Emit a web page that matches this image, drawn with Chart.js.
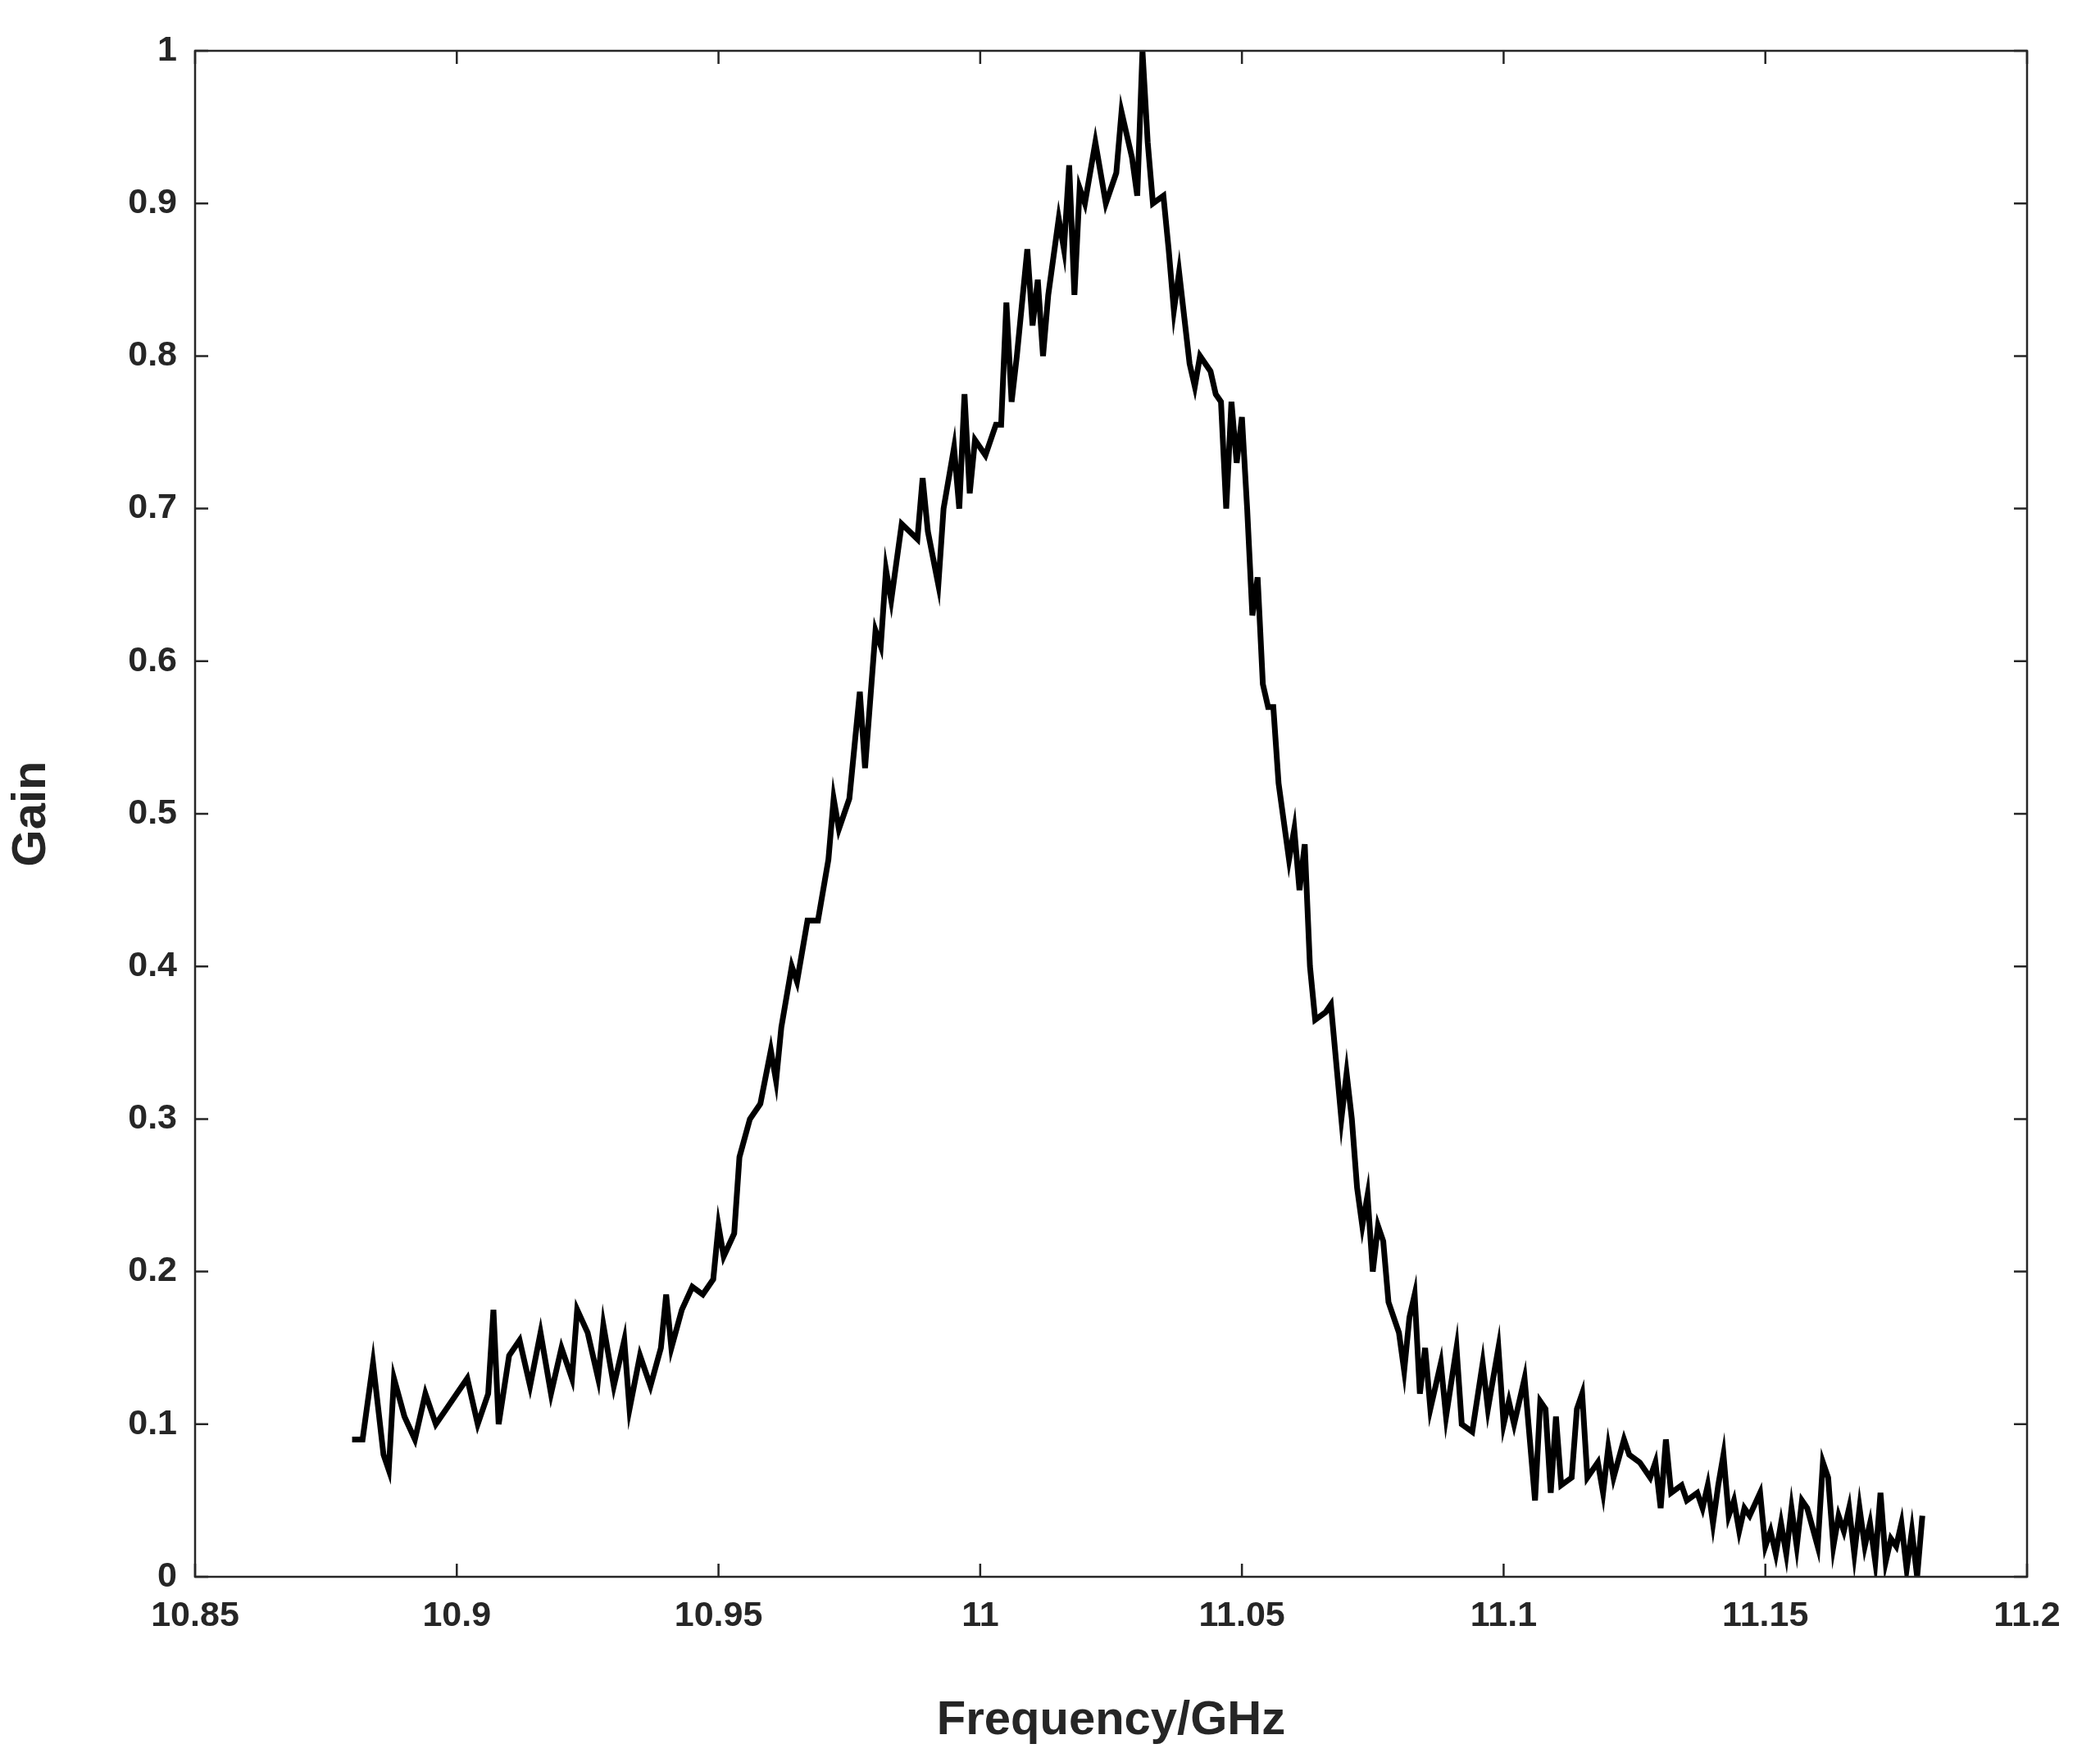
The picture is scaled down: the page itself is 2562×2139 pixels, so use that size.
<!DOCTYPE html>
<html><head><meta charset="utf-8">
<script src="https://cdn.jsdelivr.net/npm/chart.js@4"></script>
<style>html,body{margin:0;padding:0;background:#fff}#w{width:2562px;height:2139px}</style>
</head><body><div id="w"><canvas id="c"></canvas></div>
<script>
const freq = [10.880,10.882,10.884,10.886,10.887,10.888,10.890,10.892,10.894,10.896,10.898,10.900,10.902,10.904,10.906,10.907,10.908,10.910,10.912,10.914,10.916,10.918,10.920,10.922,10.923,10.925,10.927,10.928,10.930,10.932,10.933,10.935,10.937,10.939,10.940,10.941,10.943,10.945,10.947,10.949,10.950,10.951,10.953,10.954,10.956,10.958,10.960,10.961,10.962,10.964,10.965,10.967,10.969,10.971,10.972,10.973,10.975,10.977,10.978,10.980,10.981,10.982,10.983,10.985,10.988,10.989,10.990,10.992,10.993,10.995,10.996,10.997,10.998,10.999,11.001,11.003,11.004,11.005,11.006,11.007,11.009,11.010,11.011,11.012,11.013,11.015,11.016,11.017,11.018,11.019,11.020,11.022,11.024,11.026,11.027,11.029,11.030,11.031,11.032,11.033,11.035,11.036,11.037,11.038,11.040,11.041,11.042,11.044,11.045,11.046,11.047,11.048,11.049,11.050,11.051,11.052,11.053,11.054,11.055,11.056,11.057,11.059,11.060,11.061,11.062,11.063,11.064,11.066,11.067,11.069,11.070,11.071,11.072,11.073,11.074,11.075,11.076,11.077,11.078,11.080,11.081,11.082,11.083,11.084,11.085,11.086,11.088,11.089,11.091,11.092,11.094,11.096,11.097,11.099,11.100,11.101,11.102,11.104,11.105,11.106,11.107,11.108,11.109,11.110,11.111,11.113,11.114,11.115,11.116,11.118,11.119,11.120,11.121,11.123,11.124,11.126,11.128,11.129,11.130,11.131,11.132,11.134,11.135,11.137,11.138,11.139,11.140,11.141,11.142,11.143,11.144,11.145,11.146,11.147,11.149,11.150,11.151,11.152,11.153,11.154,11.155,11.156,11.157,11.158,11.160,11.161,11.162,11.163,11.164,11.165,11.166,11.167,11.168,11.169,11.170,11.171,11.172,11.173,11.174,11.175,11.176,11.177,11.178,11.179,11.180];
const gain = [0.09,0.09,0.14,0.08,0.07,0.13,0.105,0.09,0.12,0.10,0.11,0.12,0.13,0.10,0.12,0.175,0.10,0.145,0.155,0.125,0.16,0.12,0.15,0.13,0.175,0.16,0.13,0.165,0.125,0.155,0.11,0.145,0.125,0.15,0.185,0.15,0.175,0.19,0.185,0.195,0.23,0.21,0.225,0.275,0.30,0.31,0.345,0.325,0.36,0.40,0.39,0.43,0.43,0.47,0.51,0.49,0.51,0.58,0.53,0.62,0.61,0.66,0.64,0.69,0.68,0.72,0.685,0.65,0.70,0.74,0.70,0.775,0.71,0.745,0.735,0.755,0.755,0.835,0.77,0.80,0.87,0.82,0.85,0.80,0.84,0.89,0.87,0.925,0.84,0.91,0.90,0.94,0.90,0.92,0.96,0.93,0.905,1.0,0.94,0.90,0.905,0.87,0.83,0.855,0.795,0.78,0.80,0.79,0.775,0.77,0.70,0.77,0.73,0.76,0.70,0.63,0.655,0.585,0.57,0.57,0.52,0.47,0.49,0.45,0.48,0.40,0.365,0.37,0.375,0.30,0.33,0.30,0.255,0.23,0.25,0.20,0.23,0.22,0.18,0.16,0.135,0.17,0.185,0.12,0.15,0.11,0.14,0.105,0.15,0.10,0.095,0.14,0.11,0.15,0.10,0.115,0.10,0.13,0.09,0.05,0.115,0.11,0.055,0.105,0.06,0.065,0.11,0.12,0.065,0.075,0.055,0.085,0.065,0.09,0.08,0.075,0.065,0.075,0.045,0.09,0.055,0.06,0.05,0.055,0.045,0.06,0.035,0.06,0.08,0.04,0.05,0.03,0.045,0.04,0.055,0.02,0.03,0.015,0.035,0.015,0.045,0.02,0.05,0.045,0.02,0.075,0.065,0.02,0.04,0.03,0.045,0.015,0.045,0.02,0.035,0.01,0.055,0.01,0.025,0.02,0.035,0.005,0.03,0.0,0.04,0.055];
const xTicks = [10.85,10.9,10.95,11,11.05,11.1,11.15,11.2];
const yTicks = [0,0.1,0.2,0.3,0.4,0.5,0.6,0.7,0.8,0.9,1];
const font = {family:'"Liberation Sans", Arial, sans-serif', weight:'bold', size:43};
const boxPlugin = {id:'box', afterDraw(ch){
  const a=ch.chartArea, c=ch.ctx, xs=ch.scales.x, ys=ch.scales.y, L=16;
  c.save(); c.strokeStyle='#262626'; c.lineWidth=2.5;
  c.strokeRect(a.left,a.top,a.right-a.left,a.bottom-a.top);
  c.beginPath();
  xTicks.forEach(v=>{const p=xs.getPixelForValue(v); c.moveTo(p,a.bottom); c.lineTo(p,a.bottom-L); c.moveTo(p,a.top); c.lineTo(p,a.top+L);});
  yTicks.forEach(v=>{const p=ys.getPixelForValue(v); c.moveTo(a.left,p); c.lineTo(a.left+L,p); c.moveTo(a.right,p); c.lineTo(a.right-L,p);});
  c.stroke(); c.restore();
}};
new Chart(document.getElementById('c'), {
  type:'line',
  data:{datasets:[{data:freq.map((f,i)=>({x:f,y:gain[i]})), borderColor:'#000', borderWidth:7, pointRadius:0, tension:0, fill:false}]},
  options:{responsive:true, maintainAspectRatio:false, animation:false,
    layout:{padding:{left:0,right:89,top:62,bottom:0}},
    plugins:{legend:{display:false}, tooltip:{enabled:false}},
    scales:{
      x:{type:'linear', min:10.85, max:11.2,
        afterBuildTicks:s=>{s.ticks=xTicks.map(v=>({value:v}));},
        afterFit:s=>{s.height=215;},
        grid:{display:false}, border:{display:false},
        ticks:{font, color:'#262626', padding:14, maxRotation:0, callback:v=>String(+v.toFixed(2))},
        title:{display:true, text:'Frequency/GHz', font:{...font,size:58}, color:'#262626', padding:{top:8}}},
      y:{min:0, max:1,
        afterBuildTicks:s=>{s.ticks=yTicks.map(v=>({value:v}));},
        afterFit:s=>{s.width=238;},
        grid:{display:false}, border:{display:false},
        ticks:{font, color:'#262626', padding:14, callback:v=>String(+v.toFixed(1))},
        title:{display:true, text:'Gain', font:{...font,size:58}, color:'#262626', padding:{bottom:10}}}
    }},
  plugins:[boxPlugin]
});
</script></body></html>
